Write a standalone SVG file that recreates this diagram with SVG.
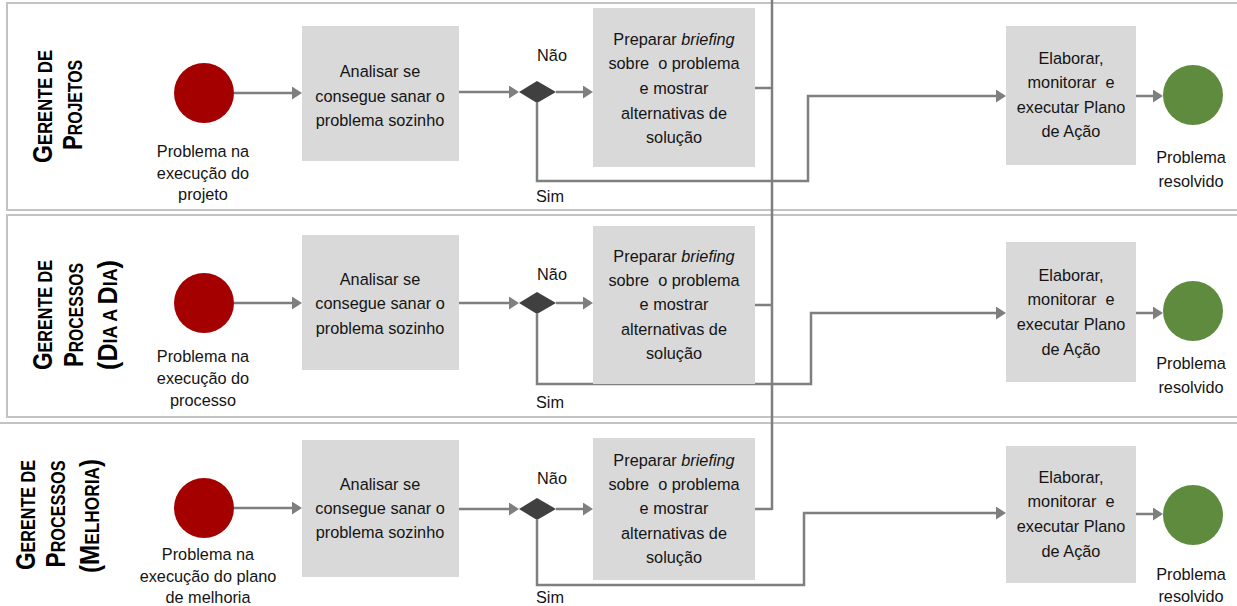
<svg xmlns="http://www.w3.org/2000/svg" width="1237" height="606" viewBox="0 0 1237 606">
<style>
.lanebg{fill:#ffffff;stroke:#c3c3c3;stroke-width:2}
.box{fill:#d9d9d9}
.start{fill:#a50000}
.end{fill:#5f8b3e}
.dia{fill:#404040}
.t{font-family:"Liberation Sans",Arial,sans-serif;font-size:16.3px;fill:#141414;text-anchor:middle}
.ln{font-family:"Liberation Sans",Arial,sans-serif;font-weight:bold;font-size:28px;fill:#000;text-anchor:middle}
.sc{font-size:20px}
.c{fill:none;stroke:#7f7f7f;stroke-width:2.5}
.a{marker-end:url(#arr)}
</style>
<defs>
<marker id="arr" markerUnits="userSpaceOnUse" markerWidth="10" markerHeight="13" refX="2" refY="6.5" orient="auto">
<path d="M0,0 L10,6.5 L0,13 z" fill="#7f7f7f"/>
</marker>
</defs>

<g id="lanes">
<rect class="lanebg" x="7" y="3" width="1245" height="207"/>
<rect class="lanebg" x="7" y="215" width="1245" height="202"/>
<rect class="lanebg" x="-5" y="423" width="1257" height="200"/>
</g>

<g id="lane-labels">
<text class="ln" transform="translate(52,106.5) rotate(-90)" textLength="113" lengthAdjust="spacingAndGlyphs">G<tspan class="sc">ERENTE DE</tspan></text>
<text class="ln" transform="translate(82,105) rotate(-90)" textLength="90" lengthAdjust="spacingAndGlyphs">P<tspan class="sc">ROJETOS</tspan></text>
<text class="ln" transform="translate(52,315) rotate(-90)" textLength="110" lengthAdjust="spacingAndGlyphs">G<tspan class="sc">ERENTE DE</tspan></text>
<text class="ln" transform="translate(83,315) rotate(-90)" textLength="104" lengthAdjust="spacingAndGlyphs">P<tspan class="sc">ROCESSOS</tspan></text>
<text class="ln" transform="translate(117,315) rotate(-90)" textLength="110" lengthAdjust="spacingAndGlyphs">(D<tspan class="sc">IA A </tspan>D<tspan class="sc">IA</tspan>)</text>
<text class="ln" transform="translate(35,515) rotate(-90)" textLength="110" lengthAdjust="spacingAndGlyphs">G<tspan class="sc">ERENTE DE</tspan></text>
<text class="ln" transform="translate(65,514) rotate(-90)" textLength="107" lengthAdjust="spacingAndGlyphs">P<tspan class="sc">ROCESSOS</tspan></text>
<text class="ln" transform="translate(99,516) rotate(-90)" textLength="114" lengthAdjust="spacingAndGlyphs">(M<tspan class="sc">ELHORIA</tspan>)</text>
</g>

<g id="connectors">
<!-- lane 1 -->
<line class="c a" x1="234" y1="93" x2="294" y2="93"/>
<line class="c a" x1="459" y1="92" x2="511" y2="92"/>
<line class="c a" x1="556" y1="92" x2="585" y2="92"/>
<polyline class="c" points="755,88 772,88"/>
<polyline class="c a" points="537,103 537,181 808,181 808,96 998,96"/>
<line class="c a" x1="1136" y1="96" x2="1155" y2="96"/>
<!-- lane 2 -->
<line class="c a" x1="234" y1="303" x2="294" y2="303"/>
<line class="c a" x1="459" y1="303" x2="511" y2="303"/>
<line class="c a" x1="556" y1="303" x2="585" y2="303"/>
<polyline class="c" points="755,305 772,305"/>
<polyline class="c a" points="537,314 537,384 811,384 811,313 998,313"/>
<line class="c a" x1="1136" y1="313" x2="1155" y2="313"/>
<!-- lane 3 -->
<line class="c a" x1="234" y1="508" x2="294" y2="508"/>
<line class="c a" x1="459" y1="509" x2="511" y2="509"/>
<line class="c a" x1="556" y1="509" x2="585" y2="509"/>
<polyline class="c" points="755,509 772,509"/>
<polyline class="c a" points="537,520 537,585 804,585 804,513 998,513"/>
<line class="c a" x1="1136" y1="514" x2="1155" y2="514"/>
<!-- vertical escalation line -->
<line class="c" x1="772" y1="0" x2="772" y2="510"/>
</g>

<!-- Lane 1 nodes -->
<g id="l1-start">
<circle class="start" cx="204" cy="93" r="30"/>
<text class="t" x="203" y="157">Problema na</text>
<text class="t" x="203" y="179">execução do</text>
<text class="t" x="203" y="200">projeto</text>
</g>
<g id="l1-analisar">
<rect class="box" x="302" y="26" width="157" height="135"/>
<text class="t" x="380" y="77">Analisar se</text>
<text class="t" x="380" y="102">consegue sanar o</text>
<text class="t" x="380" y="126">problema sozinho</text>
</g>
<g id="l1-decisao">
<polygon class="dia" points="519,92 537,81 556,92 537,103"/>
<text class="t" x="552" y="61">Não</text>
<text class="t" x="550" y="202">Sim</text>
</g>
<g id="l1-briefing">
<rect class="box" x="593" y="8" width="162" height="159"/>
<text class="t" x="674" y="45">Preparar <tspan font-style="italic">briefing</tspan></text>
<text class="t" x="674" y="69" xml:space="preserve">sobre  o problema</text>
<text class="t" x="674" y="94">e mostrar</text>
<text class="t" x="674" y="119">alternativas de</text>
<text class="t" x="674" y="143">solução</text>
</g>
<g id="l1-elaborar">
<rect class="box" x="1006" y="26" width="130" height="139"/>
<text class="t" x="1071" y="64">Elaborar,</text>
<text class="t" x="1071" y="88" xml:space="preserve">monitorar  e</text>
<text class="t" x="1071" y="113">executar Plano</text>
<text class="t" x="1071" y="137">de Ação</text>
</g>
<g id="l1-end">
<circle class="end" cx="1193" cy="95" r="30"/>
<text class="t" x="1191" y="163">Problema</text>
<text class="t" x="1191" y="187">resolvido</text>
</g>

<!-- Lane 2 nodes -->
<g id="l2-start">
<circle class="start" cx="204" cy="303" r="30"/>
<text class="t" x="203" y="362">Problema na</text>
<text class="t" x="203" y="384">execução do</text>
<text class="t" x="203" y="406">processo</text>
</g>
<g id="l2-analisar">
<rect class="box" x="302" y="235" width="157" height="135"/>
<text class="t" x="380" y="285">Analisar se</text>
<text class="t" x="380" y="309">consegue sanar o</text>
<text class="t" x="380" y="334">problema sozinho</text>
</g>
<g id="l2-decisao">
<polygon class="dia" points="519,303 537,292 556,303 537,314"/>
<text class="t" x="552" y="280">Não</text>
<text class="t" x="550" y="408">Sim</text>
</g>
<g id="l2-briefing">
<rect class="box" x="593" y="226" width="162" height="158"/>
<text class="t" x="674" y="262">Preparar <tspan font-style="italic">briefing</tspan></text>
<text class="t" x="674" y="286" xml:space="preserve">sobre  o problema</text>
<text class="t" x="674" y="310">e mostrar</text>
<text class="t" x="674" y="335">alternativas de</text>
<text class="t" x="674" y="359">solução</text>
</g>
<g id="l2-elaborar">
<rect class="box" x="1006" y="242" width="130" height="140"/>
<text class="t" x="1071" y="281">Elaborar,</text>
<text class="t" x="1071" y="305" xml:space="preserve">monitorar  e</text>
<text class="t" x="1071" y="330">executar Plano</text>
<text class="t" x="1071" y="355">de Ação</text>
</g>
<g id="l2-end">
<circle class="end" cx="1193" cy="311" r="30"/>
<text class="t" x="1191" y="369">Problema</text>
<text class="t" x="1191" y="393">resolvido</text>
</g>

<!-- Lane 3 nodes -->
<g id="l3-start">
<circle class="start" cx="204" cy="508" r="30"/>
<text class="t" x="208" y="560">Problema na</text>
<text class="t" x="208" y="582">execução do plano</text>
<text class="t" x="208" y="603">de melhoria</text>
</g>
<g id="l3-analisar">
<rect class="box" x="302" y="440" width="157" height="137"/>
<text class="t" x="380" y="490">Analisar se</text>
<text class="t" x="380" y="514">consegue sanar o</text>
<text class="t" x="380" y="538">problema sozinho</text>
</g>
<g id="l3-decisao">
<polygon class="dia" points="519,509 537,498 556,509 537,520"/>
<text class="t" x="552" y="484">Não</text>
<text class="t" x="550" y="603">Sim</text>
</g>
<g id="l3-briefing">
<rect class="box" x="593" y="438" width="162" height="142"/>
<text class="t" x="674" y="466">Preparar <tspan font-style="italic">briefing</tspan></text>
<text class="t" x="674" y="490" xml:space="preserve">sobre  o problema</text>
<text class="t" x="674" y="514">e mostrar</text>
<text class="t" x="674" y="539">alternativas de</text>
<text class="t" x="674" y="563">solução</text>
</g>
<g id="l3-elaborar">
<rect class="box" x="1006" y="446" width="130" height="137"/>
<text class="t" x="1071" y="483">Elaborar,</text>
<text class="t" x="1071" y="507" xml:space="preserve">monitorar  e</text>
<text class="t" x="1071" y="532">executar Plano</text>
<text class="t" x="1071" y="557">de Ação</text>
</g>
<g id="l3-end">
<circle class="end" cx="1193" cy="515" r="30"/>
<text class="t" x="1191" y="580">Problema</text>
<text class="t" x="1191" y="602">resolvido</text>
</g>
</svg>
